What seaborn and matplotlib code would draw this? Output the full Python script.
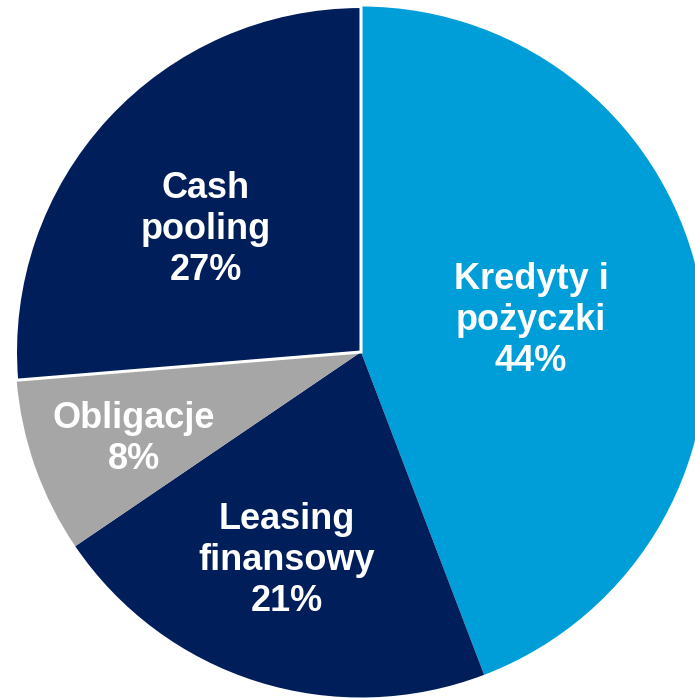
import numpy as np
import seaborn as sns
import matplotlib
matplotlib.use("Agg")
import matplotlib.pyplot as plt

## Data
labels = ["Kredyty i\npożyczki", "Leasing\nfinansowy", "Obligacje", "Cash\npooling"]
# slice sizes as drawn and the printed percentages
shares = [44.2, 21.3, 8.2, 26.3]
pct_text = ["44%", "21%", "8%", "27%"]
colors = ["#009ED9", "#001E5A", "#A6A6A6", "#001E5A"]
# label placement: distance from centre (fraction of radius) and angle nudge (deg)
label_r = [0.50, 0.64, 0.705, 0.573]
label_dtheta = [0.0, -2.2, 1.5, 4.3]

sns.set_style("white")
plt.rcParams["font.family"] = ["Liberation Sans", "DejaVu Sans"]

fig = plt.figure(figsize=(6.95, 6.98), dpi=100)
R = 345.5  # pie radius in px
ax = fig.add_axes([(361 - R) / 695, (346 - R) / 698, 2 * R / 695, 2 * R / 698])

wedges, _ = ax.pie(shares, colors=colors, startangle=90, counterclock=False,
                   wedgeprops={"linewidth": 0})
# only the cash pooling slice has a white outline
wedges[3].set_edgecolor("white")
wedges[3].set_linewidth(2.2)

for w, lab, pct, r, dt in zip(wedges, labels, pct_text, label_r, label_dtheta):
    mid = np.deg2rad((w.theta1 + w.theta2) / 2 + dt)
    ax.text(r * np.cos(mid), r * np.sin(mid), "{}\n{}".format(lab, pct),
            ha="center", va="center", color="white", fontsize=26,
            fontweight="bold", linespacing=1.22)

ax.set_xlim(-1, 1)
ax.set_ylim(-1, 1)
ax.axis("off")

fig.savefig("out.png", dpi=100)
